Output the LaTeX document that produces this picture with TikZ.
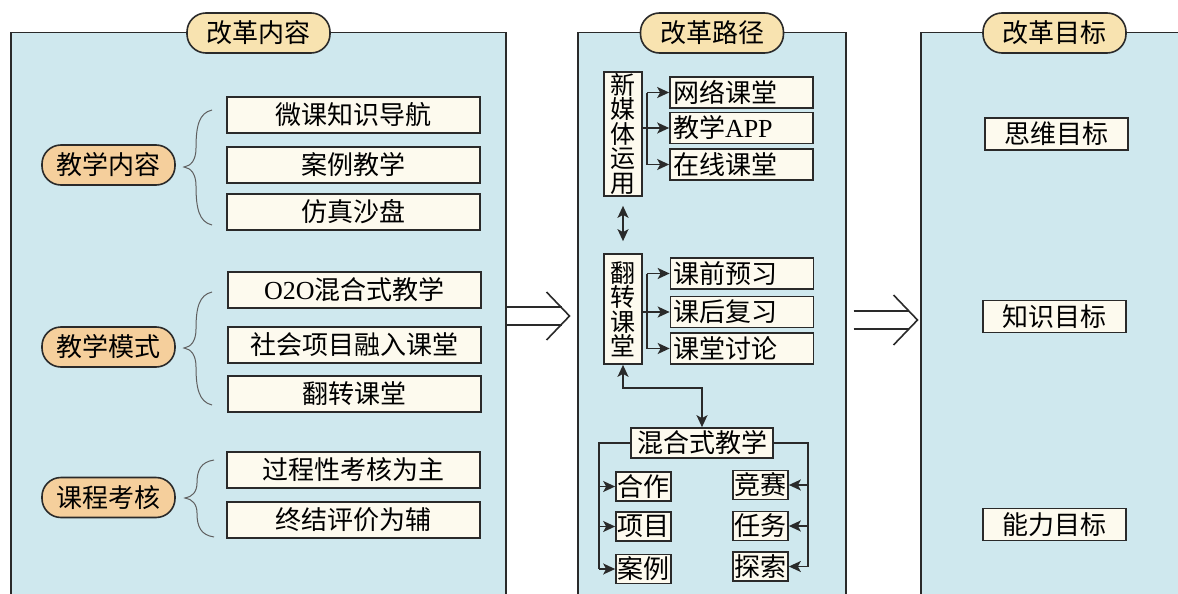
\documentclass[tikz,border=0pt]{standalone}
\usepackage{fontspec}
\setmainfont{Liberation Serif}
\newfontfamily\cjkf{Noto Sans CJK SC}
\usetikzlibrary{arrows.meta,calc}
\definecolor{lc}{HTML}{2A2A2A}
\definecolor{panelbg}{HTML}{CFE8EE}
\definecolor{titlebg}{HTML}{F8E3B0}
\definecolor{catbg}{HTML}{F5CF9C}
\definecolor{boxbg}{HTML}{FDFAEE}
\tikzset{
  fnt/.style={font=\cjkf\fontsize{26}{26}\selectfont},
  panel/.style={draw=lc, line width=1.5pt, fill=panelbg, anchor=north west, minimum height=620pt, inner sep=0pt},
  titlepill/.style={fnt, draw=lc, line width=1.6pt, fill=titlebg, rounded corners=19pt, minimum width=143pt, minimum height=40pt, inner sep=0pt},
  catpill/.style={fnt, draw=lc, line width=1.6pt, fill=catbg, rounded corners=19pt, minimum width=133pt, minimum height=40pt, inner sep=0pt},
  itembox/.style={fnt, draw=lc, line width=2pt, fill=boxbg, minimum width=253pt, minimum height=36pt, inner sep=0pt},
  sbox/.style={fnt, draw=lc, line width=1.7pt, fill=boxbg, text width=137pt, inner xsep=3pt, inner ysep=0pt, minimum height=31pt, align=left},
  cbox/.style={fnt, draw=lc, line width=1.7pt, fill=boxbg, minimum width=55pt, minimum height=29pt, inner sep=0pt},
  vbox/.style={font=\cjkf\fontsize{25}{24.5}\selectfont, draw=lc, line width=1.7pt, fill=boxbg, minimum width=38pt, inner sep=0pt, align=center},
  goalbox/.style={fnt, draw=lc, line width=1.7pt, fill=boxbg, minimum width=143pt, minimum height=32pt, inner sep=0pt},
  brace/.style={draw=lc!75, line width=1pt},
  conn/.style={draw=lc, line width=1.6pt},
  arr/.style={conn, -{Stealth[length=12pt,width=11pt,inset=3pt]}},
  darr/.style={conn, {Stealth[length=12pt,width=11pt,inset=3pt]}-{Stealth[length=12pt,width=11pt,inset=3pt]}},
  big/.style={draw=lc, line width=1.6pt},
}
\begin{document}
\begin{tikzpicture}[x=1pt,y=-1pt]
\clip (0,0) rectangle (1178,594);
\fill[white] (0,0) rectangle (1178,594);

% panels
\node[panel, minimum width=495pt] (p1) at (10,32) {};
\node[panel, minimum width=268pt] (p2) at (577,32) {};
\node[panel, minimum width=300pt] (p3) at (920,32) {};

\node[titlepill] (t1) at (258.5,33) {改革内容};
\node[titlepill] (t2) at (712,33) {改革路径};
\node[titlepill] (t3) at (1054.5,33) {改革目标};

% panel 1
\node[catpill] (c1) at (108.5,165) {教学内容};
\node[catpill] (c2) at (108.5,347) {教学模式};
\node[catpill] (c3) at (108.5,497.5) {课程考核};

\node[itembox] (i1) at (353.5,115) {微课知识导航};
\node[itembox] (i2) at (353.5,165) {案例教学};
\node[itembox] (i3) at (353.5,212) {仿真沙盘};
\node[itembox] (i4) at (354.5,289.5) {{\rmfamily O2O}混合式教学};
\node[itembox] (i5) at (354.5,344.5) {社会项目融入课堂};
\node[itembox] (i6) at (354.5,394) {翻转课堂};
\node[itembox] (i7) at (353.5,470) {过程性考核为主};
\node[itembox] (i8) at (353.5,519.5) {终结评价为辅};

% braces
\path[brace] (212,110) .. controls (199,113) and (196,126) .. (196,148)
  .. controls (196,160) and (191,166) .. (184,167)
  .. controls (191,168) and (196,174) .. (196,186)
  .. controls (196,208) and (199,222) .. (212,225);
\path[brace] (212,292) .. controls (199,295) and (196,308) .. (196,329)
  .. controls (196,341) and (191,347) .. (184,348)
  .. controls (191,349) and (196,355) .. (196,367)
  .. controls (196,388) and (199,402) .. (212,405);
\path[brace] (214,460) .. controls (201,462) and (197,470) .. (197,483)
  .. controls (197,492) and (192,497) .. (185,498)
  .. controls (192,499) and (197,504) .. (197,513)
  .. controls (197,527) and (201,535) .. (214,537);

% big arrows
\coordinate (a1) at (p1.east |- 0,316);
\draw[big] ($(a1)+(0,-9)$) -- ++(55,0);
\draw[big] ($(a1)+(0,9)$) -- ++(55,0);
\draw[big] ($(a1)+(40,-24)$) -- ($(a1)+(63,0)$) -- ($(a1)+(40,24)$);
\coordinate (a2) at ($(p2.east |- 0,320)+(7,0)$);
\draw[big] ($(a2)+(0,-9)$) -- ++(55,0);
\draw[big] ($(a2)+(0,9)$) -- ++(55,0);
\draw[big] ($(a2)+(40,-25)$) -- ($(a2)+(64,0)$) -- ($(a2)+(40,25)$);

% panel 2
\node[vbox, minimum height=124pt] (nm) at (623,134) {新\\媒\\体\\运\\用};
\node[sbox] (wl) at (741.5,92.5) {网络课堂};
\node[sbox] (app) at (741.5,128) {教学{\rmfamily APP}};
\node[sbox] (zx) at (741.5,164.5) {在线课堂};
\coordinate (b1) at ($(nm.east)+(4,0)$);
\draw[conn] (b1 |- wl) -- (b1 |- zx);
\draw[conn] (nm.east |- app) -- (b1 |- app);
\draw[arr] (b1 |- wl) -- (wl.west);
\draw[arr] (b1 |- app) -- (app.west);
\draw[arr] (b1 |- zx) -- (zx.west);

\node[vbox, minimum height=110pt] (fz) at (623,309) {翻\\转\\课\\堂};
\node[sbox] (kq) at (742,273.5) {课前预习};
\node[sbox] (kh) at (742,312) {课后复习};
\node[sbox] (kt) at (742,348.5) {课堂讨论};
\coordinate (b2) at ($(fz.east)+(4,0)$);
\draw[conn] (b2 |- kq) -- (b2 |- kt);
\draw[conn] (fz.east |- kh) -- (b2 |- kh);
\draw[arr] (b2 |- kq) -- (kq.west);
\draw[arr] (b2 |- kh) -- (kh.west);
\draw[arr] (b2 |- kt) -- (kt.west);

\draw[darr, shorten <=9pt, shorten >=12pt] (nm.south) -- (fz.north);

\node[fnt, draw=lc, line width=1.7pt, fill=boxbg, minimum width=142pt, minimum height=30pt, inner sep=0pt] (hh) at (702,443) {混合式教学};
\draw[darr] (fz.south) -- ++(0,23) -| (hh.north);

\node[cbox] (hz) at (643.5,486.5) {合作};
\node[cbox] (xm) at (643.5,526.5) {项目};
\node[cbox] (al) at (643.5,569) {案例};
\node[cbox] (js) at (760.5,485) {竞赛};
\node[cbox] (rw) at (760.5,526) {任务};
\node[cbox] (ts) at (760.5,566.5) {探索};

\coordinate (lb) at (599,443);
\coordinate (rb) at (808,443);
\draw[conn] (hh.west) -- (lb) -- (lb |- al);
\draw[arr] (lb |- hz) -- (hz.west);
\draw[arr] (lb |- xm) -- (xm.west);
\draw[arr] (lb |- al) -- (al.west);
\draw[conn] (hh.east) -- (rb) -- (rb |- ts);
\draw[arr] (rb |- js) -- (js.east);
\draw[arr] (rb |- rw) -- (rw.east);
\draw[arr] (rb |- ts) -- (ts.east);

% panel 3
\node[goalbox] (sw) at (1056.5,134) {思维目标};
\node[goalbox] (zs) at (1054.5,316.5) {知识目标};
\node[goalbox] (nl) at (1054.5,524.5) {能力目标};
\end{tikzpicture}
\end{document}
